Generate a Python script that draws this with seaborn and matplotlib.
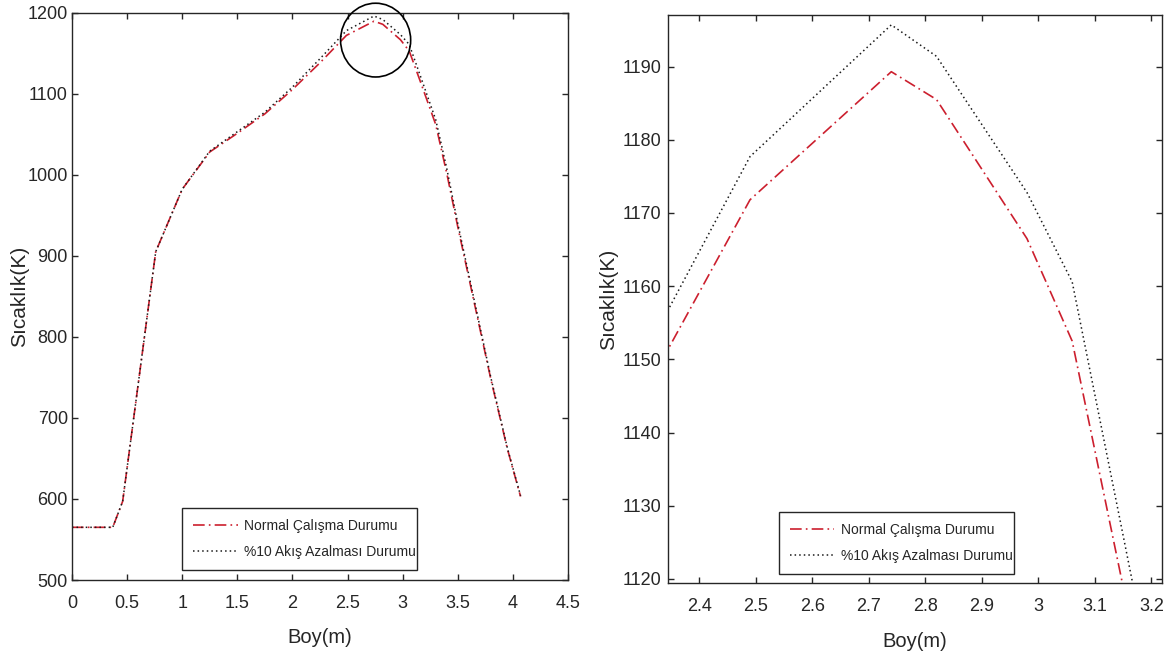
import matplotlib
matplotlib.use("Agg")
import matplotlib.pyplot as plt
from matplotlib.patches import Ellipse
from matplotlib.ticker import FuncFormatter
import pandas as pd
import seaborn as sns

# Temperature profile along the length for the two operating cases
boy_m = [0.0, 0.37, 0.46, 0.76, 1.0, 1.25, 1.5, 1.75, 2.0, 2.25, 2.49, 2.74,
         2.82, 2.98, 3.06, 3.15, 3.3, 3.4, 3.5, 3.65, 3.8, 3.95, 4.07]
normal_k = [565, 565, 597, 905, 982, 1028, 1051, 1075, 1105, 1138, 1171.8, 1189.3,
            1185.5, 1166.5, 1152.5, 1119, 1062, 1002, 936, 842, 748, 662, 603]
reduced_k = [565, 565, 597, 905, 982, 1029, 1053, 1077, 1108, 1143, 1177.7, 1195.7,
             1191.4, 1172.8, 1160.6, 1126, 1068, 1008, 940, 845, 750, 663, 604]
series_labels = ["Normal Çalışma Durumu", "%10 Akış Azalması Durumu"]

left_xticks = [0, 0.5, 1, 1.5, 2, 2.5, 3, 3.5, 4, 4.5]
left_yticks = [500, 600, 700, 800, 900, 1000, 1100, 1200]
right_xticks = [2.4, 2.5, 2.6, 2.7, 2.8, 2.9, 3.0, 3.1, 3.2]
right_yticks = [1120, 1130, 1140, 1150, 1160, 1170, 1180, 1190]

x_label = "Boy(m)"
y_label = "Sıcaklık(K)"

sns.set_style("ticks")
plt.rcParams["font.family"] = ["Liberation Sans", "DejaVu Sans"]

ink = "#262626"
red = "#cc1f2e"
dark = "#1a1a1a"

df = pd.DataFrame({"Boy": boy_m, "normal": normal_k, "reduced": reduced_k})

fig = plt.figure(figsize=(11.72, 6.60), dpi=100)
ax_l = fig.add_axes([0.0614, 0.1212, 0.4232, 0.8598])
ax_r = fig.add_axes([0.5700, 0.1167, 0.4215, 0.8606])

fmt = FuncFormatter(lambda v, pos: f"{v:g}")


def draw(ax, ypad):
    sns.lineplot(data=df, x="Boy", y="normal", ax=ax, color=red, lw=1.2,
                 linestyle=(0, (7, 2.5, 1, 2.5)), label=series_labels[0],
                 estimator=None, sort=False)
    sns.lineplot(data=df, x="Boy", y="reduced", ax=ax, color=dark, lw=1.1,
                 linestyle=(0, (1, 2)), label=series_labels[1],
                 estimator=None, sort=False)
    for sp in ax.spines.values():
        sp.set_visible(True)
        sp.set_color(ink)
        sp.set_linewidth(1.0)
    ax.tick_params(direction="in", length=4.5, width=1.0, top=True, right=True,
                   colors=ink, labelsize=13)
    ax.tick_params(axis="x", pad=11)
    ax.tick_params(axis="y", pad=ypad)
    ax.xaxis.set_major_formatter(fmt)
    ax.yaxis.set_major_formatter(fmt)
    ax.set_xlabel(x_label, fontsize=14.5, color=ink)
    ax.set_ylabel(y_label, fontsize=15, color=ink)
    ax.grid(False)


draw(ax_l, 3)
ax_l.set_xlim(0, 4.5)
ax_l.set_ylim(500, 1200)
ax_l.set_xticks(left_xticks)
ax_l.set_yticks(left_yticks)
ax_l.xaxis.set_label_coords(0.5, -0.085)
ax_l.yaxis.set_label_coords(-0.087, 0.5)
ax_l.add_patch(Ellipse((2.755, 1166), width=0.636, height=91, fill=False,
                       edgecolor="black", lw=1.2, clip_on=False, zorder=5))

draw(ax_r, 5)
ax_r.set_xlim(2.345, 3.219)
ax_r.set_ylim(1119.45, 1197.05)
ax_r.set_xticks(right_xticks)
ax_r.set_yticks(right_yticks)
ax_r.xaxis.set_label_coords(0.5, -0.086)
ax_r.yaxis.set_label_coords(-0.102, 0.5)

for ax, box in ((ax_l, (0.222, 0.0176, 0.474, 0.113)),
                (ax_r, (0.224, 0.0158, 0.476, 0.113))):
    leg = ax.legend(loc="lower left", bbox_to_anchor=box, mode="expand",
                    fontsize=10, frameon=True, fancybox=False, edgecolor=ink,
                    framealpha=1, handlelength=3.2, handletextpad=0.45,
                    borderpad=0.8, labelspacing=0.85, borderaxespad=0)
    leg.get_frame().set_linewidth(1.0)

fig.savefig("out.png", dpi=100, facecolor="white")
